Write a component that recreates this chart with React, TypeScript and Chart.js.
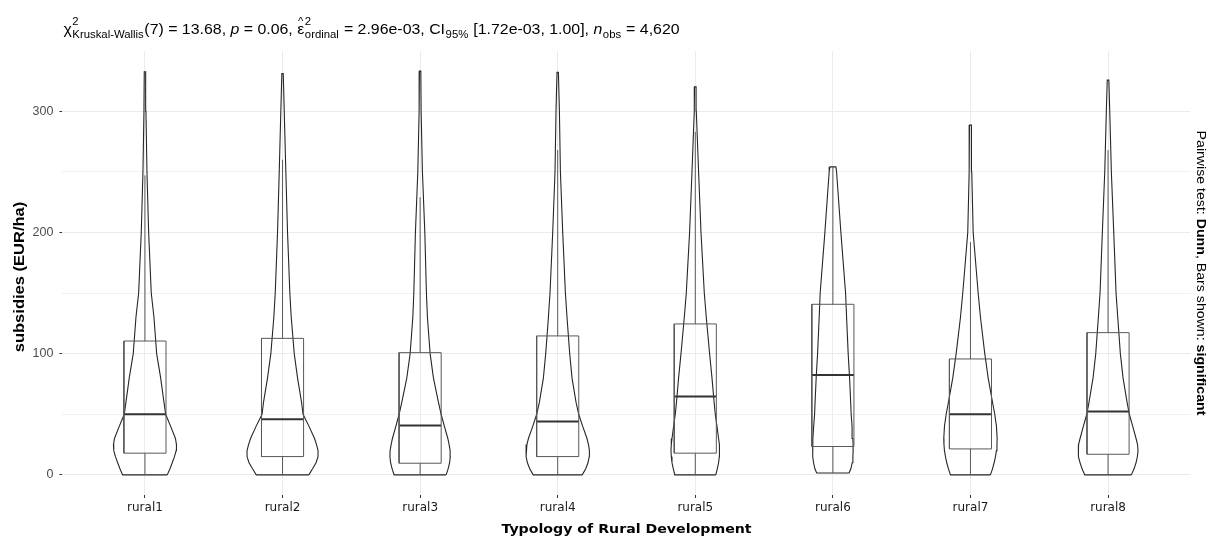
import React, { useEffect, useRef } from 'react';
import { Chart, registerables } from 'chart.js';

Chart.register(...registerables);

// ---------------- data ----------------
const categories = ['rural1', 'rural2', 'rural3', 'rural4', 'rural5', 'rural6', 'rural7', 'rural8'];
const yTickValues = [0, 50, 100, 150, 200, 250, 300];
const yLabelledTicks = [0, 100, 200, 300];

// boxplot statistics (EUR/ha)
const whiskerLow = [0, 0, 0, 0, 0, 1.5, 0, 0];
const q1 = [17.9, 15.1, 9.6, 15.1, 17.9, 23.4, 21.4, 17.0];
const medians = [50, 45.9, 40.7, 44, 64.6, 82.4, 50, 52.2];
const q3 = [110.4, 112.6, 100.8, 114.6, 124.5, 140.7, 95.6, 117.3];
const whiskerHigh = [247, 260, 229, 268, 283, 254, 192, 268];

// violin: density (relative half-width) at these value levels
const densityLevels = [0, 5, 10, 15, 20, 25, 30, 40, 50, 60, 80, 100, 130, 150, 200, 250, 300];
const violinMin = [0, 0, 0, 0, 0, 1.5, 0, 0];
const violinMax = [332.5, 331, 333, 332, 320, 254, 288.5, 325.6];
const violinTopDensity = [0.7, 0.7, 0.7, 0.7, 0.8, 3, 1, 0.8];
const densityRural1 = [22.3, 25, 27.3, 29.5, 31.2, 31.5, 30.5, 25.7, 20.7, 19, 15.7, 11.7, 9, 6.3, 3.7, 2, 1];
const densityRural2 = [26.3, 30, 33.5, 35.5, 35.5, 34, 32, 26.5, 20.5, 19, 15, 11.7, 8.7, 7.3, 5, 3.3, 1.7];
const densityRural3 = [26, 28, 29.5, 30.2, 30, 29, 27.7, 24.3, 21, 18.3, 13.3, 10, 7.3, 6.3, 4.7, 2.3, 1];
const densityRural4 = [24.5, 28, 30.3, 31.5, 31.7, 30.8, 29.3, 25, 21, 18.3, 14.3, 12, 9.3, 7.7, 5, 2.7, 1.7];
const densityRural5 = [20.5, 22, 23.3, 24, 24.3, 24, 23.3, 21.7, 20, 18.8, 16.7, 14.3, 11, 9, 5.7, 3.3, 1];
const densityRural6 = [16.2, 18, 19.3, 20, 20.3, 20.2, 20, 19.2, 18.3, 17.8, 16.7, 15.3, 13.7, 12.7, 8, 3.7, null];
const densityRural7 = [20, 22, 23.7, 25, 26, 26.5, 26.7, 26, 24.3, 22, 17.7, 14.3, 10, 7.7, 2.7, 1.3, null];
const densityRural8 = [23.3, 26, 28, 29.3, 30, 29.5, 28, 24.7, 21.3, 19, 15, 12.3, 9.7, 8, 5.7, 3.3, 1.7];
const densities = [
  densityRural1, densityRural2, densityRural3, densityRural4,
  densityRural5, densityRural6, densityRural7, densityRural8,
];

// ---------------- styling constants ----------------
const VIOLIN_SCALE = 1 / 137.6; // density units -> category units
const BOX_HALF = 0.153;
const VIOLIN_COLOR = '#262626';
const BOX_COLOR = '#585858';
const MEDIAN_COLOR = '#333333';
const TITLE_STRETCH = 1.135;
const LABEL_STRETCH = 1.18;

type Seg = { t?: string; k?: 'n' | 'i'; hat?: boolean; sup?: string; sub?: string };
const titleSegments: Seg[] = [
  { t: 'χ', k: 'n' },
  { sup: '2', sub: 'Kruskal-Wallis' },
  { t: '(7) = 13.68, ', k: 'n' },
  { t: 'p', k: 'i' },
  { t: ' = 0.06, ', k: 'n' },
  { t: 'ε', k: 'n', hat: true },
  { sup: '2', sub: 'ordinal' },
  { t: ' = 2.96e-03, CI', k: 'n' },
  { sub: '95%' },
  { t: ' [1.72e-03, 1.00], ', k: 'n' },
  { t: 'n', k: 'i' },
  { sub: 'obs' },
  { t: ' = 4,620', k: 'n' },
];
const captionSegments = [
  { t: 'Pairwise test: ', b: false },
  { t: 'Dunn', b: true },
  { t: ', Bars shown: ', b: false },
  { t: 'significant', b: true },
];
const xTitle = 'Typology of Rural Development';
const yTitle = 'subsidies (EUR/ha)';

function violinPolygon(i: number) {
  const c = i + 1;
  const d = densities[i];
  const right: { x: number; y: number }[] = [];
  densityLevels.forEach((lvl, k) => {
    const w = d[k];
    if (w == null || lvl >= violinMax[i]) return;
    right.push({ x: c + w * VIOLIN_SCALE, y: Math.max(lvl, violinMin[i]) });
  });
  right.push({ x: c + violinTopDensity[i] * VIOLIN_SCALE, y: violinMax[i] });
  const left = right.map((p) => ({ x: 2 * c - p.x, y: p.y })).reverse();
  return [...right, ...left, right[0]];
}

function buildDatasets() {
  const ds: any[] = [];
  const base = { showLine: true, pointRadius: 0, pointHoverRadius: 0, tension: 0, fill: false };
  categories.forEach((_, i) => {
    const c = i + 1;
    ds.push({
      ...base,
      data: [
        { x: c - BOX_HALF, y: q1[i] }, { x: c + BOX_HALF, y: q1[i] },
        { x: c + BOX_HALF, y: q3[i] }, { x: c - BOX_HALF, y: q3[i] },
        { x: c - BOX_HALF, y: q1[i] },
      ],
      borderColor: BOX_COLOR, borderWidth: 1,
    });
    ds.push({ ...base, data: [{ x: c, y: q3[i] }, { x: c, y: whiskerHigh[i] }], borderColor: BOX_COLOR, borderWidth: 1 });
    ds.push({ ...base, data: [{ x: c, y: whiskerLow[i] }, { x: c, y: q1[i] }], borderColor: BOX_COLOR, borderWidth: 1 });
    ds.push({
      ...base,
      data: [{ x: c - BOX_HALF, y: medians[i] }, { x: c + BOX_HALF, y: medians[i] }],
      borderColor: MEDIAN_COLOR, borderWidth: 2,
    });
    ds.push({ ...base, data: violinPolygon(i), borderColor: VIOLIN_COLOR, borderWidth: 1.1 });
  });
  return ds;
}

function drawCentered(ctx: CanvasRenderingContext2D, text: string, font: string, stretch: number) {
  ctx.font = font;
  const w = ctx.measureText(text).width;
  ctx.save();
  ctx.scale(stretch, 1);
  ctx.fillText(text, -w / 2, 0);
  ctx.restore();
}

const textPlugin = {
  id: 'textPlugin',
  afterDraw(chart: any) {
    const ctx = chart.ctx as CanvasRenderingContext2D;
    const area = chart.chartArea;
    ctx.save();
    ctx.fillStyle = '#000';
    // ----- subtitle with plotmath-like rich text -----
    const mainF = '14px "Liberation Sans", Arial, sans-serif';
    const mainI = 'italic 14px "Liberation Sans", Arial, sans-serif';
    const smallF = '10px "Liberation Sans", Arial, sans-serif';
    const base = 34;
    ctx.save();
    ctx.translate(area.left + 1, 0);
    ctx.scale(TITLE_STRETCH, 1);
    let x = 0;
    ctx.textBaseline = 'alphabetic';
    ctx.textAlign = 'left';
    for (const s of titleSegments) {
      if (s.t !== undefined) {
        ctx.font = s.k === 'i' ? mainI : mainF;
        ctx.fillText(s.t, x, base);
        const w = ctx.measureText(s.t).width;
        if (s.hat) {
          ctx.font = smallF;
          const hw = ctx.measureText('^').width;
          ctx.fillText('^', x + w / 2 - hw / 2, base - 9);
        }
        x += w;
      } else {
        ctx.font = smallF;
        let w = 0;
        if (s.sup) {
          ctx.fillText(s.sup, x + 0.5, base - 9);
          w = Math.max(w, ctx.measureText(s.sup).width + 0.5);
        }
        if (s.sub) {
          ctx.fillText(s.sub, x + 0.5, base + 4);
          w = Math.max(w, ctx.measureText(s.sub).width + 0.5);
        }
        x += w + 0.5;
      }
    }
    ctx.restore();

    // ----- axis titles -----
    ctx.textAlign = 'left';
    ctx.textBaseline = 'middle';
    ctx.save();
    ctx.translate((area.left + area.right) / 2, 530);
    drawCentered(ctx, xTitle, 'bold 12px "DejaVu Sans", sans-serif', LABEL_STRETCH);
    ctx.restore();

    ctx.save();
    ctx.translate(20, (area.top + area.bottom) / 2 + 4);
    ctx.rotate(-Math.PI / 2);
    drawCentered(ctx, yTitle, 'bold 14px "Liberation Sans", Arial, sans-serif', LABEL_STRETCH);
    ctx.restore();

    // ----- right caption, rotated -----
    const capN = '12px "Liberation Sans", Arial, sans-serif';
    const capB = 'bold 12px "Liberation Sans", Arial, sans-serif';
    let total = 0;
    for (const s of captionSegments) {
      ctx.font = s.b ? capB : capN;
      total += ctx.measureText(s.t).width;
    }
    ctx.save();
    ctx.translate(1200, (area.top + area.bottom) / 2);
    ctx.rotate(Math.PI / 2);
    ctx.scale(LABEL_STRETCH, 1);
    let px = -total / 2;
    for (const s of captionSegments) {
      ctx.font = s.b ? capB : capN;
      ctx.fillText(s.t, px, 0);
      px += ctx.measureText(s.t).width;
    }
    ctx.restore();
    ctx.restore();
  },
};

export default function App() {
  const ref = useRef<HTMLCanvasElement | null>(null);
  useEffect(() => {
    if (!ref.current) return;
    const chart = new Chart(ref.current, {
      type: 'scatter',
      data: { datasets: buildDatasets() },
      options: {
        responsive: true,
        maintainAspectRatio: false,
        animation: false,
        layout: { padding: { left: 0, right: 17.4, top: 51, bottom: 0 } },
        plugins: { legend: { display: false }, tooltip: { enabled: false }, title: { display: false } },
        elements: { point: { radius: 0, hoverRadius: 0 } },
        scales: {
          x: {
            type: 'linear',
            min: 0.4,
            max: 8.6,
            afterBuildTicks: (s: any) => {
              s.ticks = categories.map((_, i) => ({ value: i + 1 }));
            },
            afterFit: (s: any) => {
              s.height = 43;
            },
            ticks: {
              autoSkip: false,
              maxRotation: 0,
              padding: 3,
              color: '#1a1a1a',
              font: { family: '"DejaVu Sans", sans-serif', size: 12 },
              callback: (v: any) => categories[Math.round(Number(v)) - 1] ?? '',
            },
            grid: { color: '#ebebeb', lineWidth: 1, tickLength: 3, tickColor: '#333333', drawTicks: true },
            border: { display: false },
            title: { display: false },
          },
          y: {
            type: 'linear',
            min: -16.6,
            max: 349.6,
            afterBuildTicks: (s: any) => {
              s.ticks = yTickValues.map((v) => ({ value: v }));
            },
            afterFit: (s: any) => {
              s.width = 62.4;
            },
            ticks: {
              padding: 6,
              color: '#4d4d4d',
              font: { family: '"Liberation Sans", Arial, sans-serif', size: 12.5 },
              callback: (v: any) => (yLabelledTicks.includes(Number(v)) ? String(v) : ''),
            },
            grid: {
              color: (c: any) => (yLabelledTicks.includes(c.tick?.value) ? '#ebebeb' : '#f1f1f1'),
              lineWidth: 1,
              tickLength: 3,
              tickColor: (c: any) => (yLabelledTicks.includes(c.tick?.value) ? '#333333' : 'rgba(0,0,0,0)'),
              drawTicks: true,
            },
            border: { display: false },
            title: { display: false },
          },
        },
      },
      plugins: [textPlugin],
    } as any);
    return () => chart.destroy();
  }, []);
  return (
    <div style={{ position: 'fixed', left: 0, top: 0, width: 1208, height: 538, background: '#fff' }}>
      <canvas ref={ref} />
    </div>
  );
}
